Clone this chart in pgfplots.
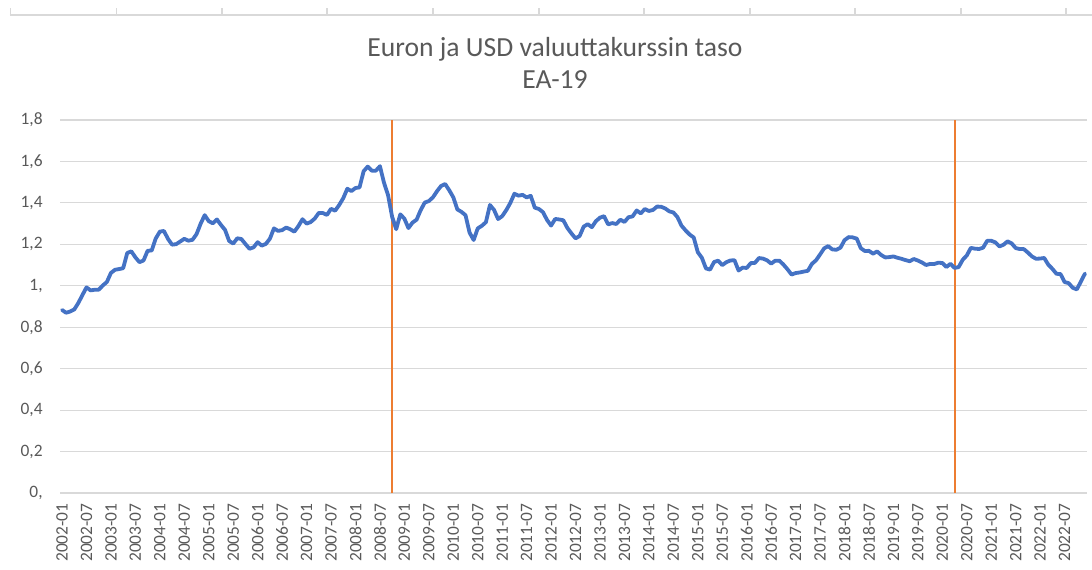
\documentclass[border=0pt]{standalone}
\usepackage{fontspec}
\setmainfont{Carlito}
\usepackage{pgfplots}
\usepackage{pgfplotstable}
\pgfplotsset{compat=1.18}
\definecolor{exblue}{HTML}{4472C4}
\definecolor{exorange}{HTML}{ED7D31}
\definecolor{exgrid}{HTML}{D9D9D9}
\definecolor{extext}{HTML}{595959}

% monthly EUR/USD, 2002-01 ... 2022-12
\pgfplotstableread{
rate
0.8833
0.8700
0.8758
0.8858
0.9170
0.9554
0.9922
0.9778
0.9808
0.9811
1.0014
1.0183
1.0622
1.0773
1.0807
1.0848
1.1582
1.1663
1.1372
1.1139
1.1222
1.1692
1.1702
1.2286
1.2613
1.2646
1.2262
1.1985
1.2007
1.2138
1.2266
1.2176
1.2218
1.2490
1.2991
1.3408
1.3119
1.3014
1.3201
1.2938
1.2694
1.2165
1.2037
1.2292
1.2256
1.2015
1.1786
1.1856
1.2103
1.1938
1.2020
1.2271
1.2770
1.2650
1.2684
1.2811
1.2727
1.2611
1.2881
1.3213
1.2999
1.3074
1.3242
1.3516
1.3511
1.3419
1.3716
1.3622
1.3896
1.4227
1.4684
1.4570
1.4718
1.4748
1.5527
1.5751
1.5557
1.5553
1.5770
1.4975
1.4370
1.3322
1.2732
1.3449
1.3239
1.2785
1.3050
1.3190
1.3650
1.4016
1.4088
1.4268
1.4562
1.4816
1.4914
1.4614
1.4272
1.3686
1.3569
1.3406
1.2565
1.2209
1.2770
1.2894
1.3067
1.3898
1.3661
1.3220
1.3360
1.3649
1.3999
1.4442
1.4349
1.4388
1.4264
1.4343
1.3770
1.3706
1.3556
1.3179
1.2905
1.3224
1.3201
1.3162
1.2789
1.2526
1.2288
1.2400
1.2856
1.2974
1.2828
1.3119
1.3288
1.3359
1.2964
1.3026
1.2982
1.3189
1.3080
1.3310
1.3348
1.3635
1.3493
1.3704
1.3610
1.3659
1.3823
1.3813
1.3732
1.3592
1.3539
1.3316
1.2901
1.2673
1.2472
1.2331
1.1621
1.1350
1.0838
1.0779
1.1150
1.1213
1.0996
1.1139
1.1221
1.1235
1.0736
1.0877
1.0860
1.1093
1.1100
1.1339
1.1311
1.1229
1.1069
1.1212
1.1212
1.1026
1.0799
1.0543
1.0614
1.0643
1.0685
1.0723
1.1058
1.1229
1.1511
1.1807
1.1915
1.1756
1.1738
1.1836
1.2200
1.2348
1.2336
1.2276
1.1812
1.1678
1.1686
1.1549
1.1659
1.1484
1.1367
1.1384
1.1416
1.1351
1.1302
1.1238
1.1185
1.1293
1.1218
1.1126
1.1004
1.1053
1.1051
1.1113
1.1100
1.0905
1.1063
1.0862
1.0902
1.1255
1.1463
1.1828
1.1792
1.1775
1.1838
1.2170
1.2171
1.2098
1.1899
1.1979
1.2146
1.2047
1.1822
1.1772
1.1770
1.1601
1.1414
1.1304
1.1314
1.1342
1.1019
1.0819
1.0579
1.0566
1.0179
1.0128
0.9904
0.9826
1.0201
1.0589
}\ratetable

\begin{document}
\begin{tikzpicture}
% faint ruler at the top of the sheet
\draw[exgrid, line width=0.75pt] (-25pt,239pt) -- (516pt,239pt);
\foreach \x in {-24.8,28.2,81,133.5,186.5,239.5,292,345,397.5,450.5,503}
  \draw[exgrid, line width=0.6pt] (\x pt,239pt) -- (\x pt,242.5pt);

\begin{axis}[
    scale only axis,
    width=513.5pt,
    height=186.5pt,
    at={(0,0)}, anchor=south west,
    xmin=-0.5, xmax=251.5,
    ymin=0, ymax=1.8,
    axis line style={draw=none},
    major tick length=0pt,
    ymajorgrids,
    grid style={exgrid, line width=0.6pt},
    ytick={0,0.2,0.4,0.6,0.8,1,1.2,1.4,1.6,1.8},
    yticklabels={{0,},{0,2},{0,4},{0,6},{0,8},{1,},{1,2},{1,4},{1,6},{1,8}},
    xtick={0,6,...,246},
    xticklabels={2002-01,2002-07,2003-01,2003-07,2004-01,2004-07,2005-01,2005-07,
      2006-01,2006-07,2007-01,2007-07,2008-01,2008-07,2009-01,2009-07,2010-01,2010-07,
      2011-01,2011-07,2012-01,2012-07,2013-01,2013-07,2014-01,2014-07,2015-01,2015-07,
      2016-01,2016-07,2017-01,2017-07,2018-01,2018-07,2019-01,2019-07,2020-01,2020-07,
      2021-01,2021-07,2022-01,2022-07},
    tick label style={font=\fontsize{8.7}{10}\selectfont, text=extext, inner sep=0pt},
    xticklabel style={rotate=90, anchor=east},
    xticklabel shift=5pt,
    yticklabel style={anchor=east},
    yticklabel shift=8.5pt,
    clip=false,
]
\addplot[exorange, line width=1pt] coordinates {(81,0) (81,1.8)};
\addplot[exorange, line width=1pt] coordinates {(219,0) (219,1.8)};
\addplot[exblue, line width=1.9pt, line join=round, line cap=round] table[x expr=\coordindex, y=rate] {\ratetable};
\end{axis}

\node[text=extext, font=\fontsize{13.8}{16}\selectfont] at (247.5pt,222pt) {Euron ja USD valuuttakurssin taso};
\node[text=extext, font=\fontsize{13.8}{16}\selectfont] at (247.5pt,206.5pt) {EA-19};

\pgfresetboundingbox
\path[use as bounding box] (-30pt,-38pt) rectangle (516pt,246.5pt);
\end{tikzpicture}
\end{document}
